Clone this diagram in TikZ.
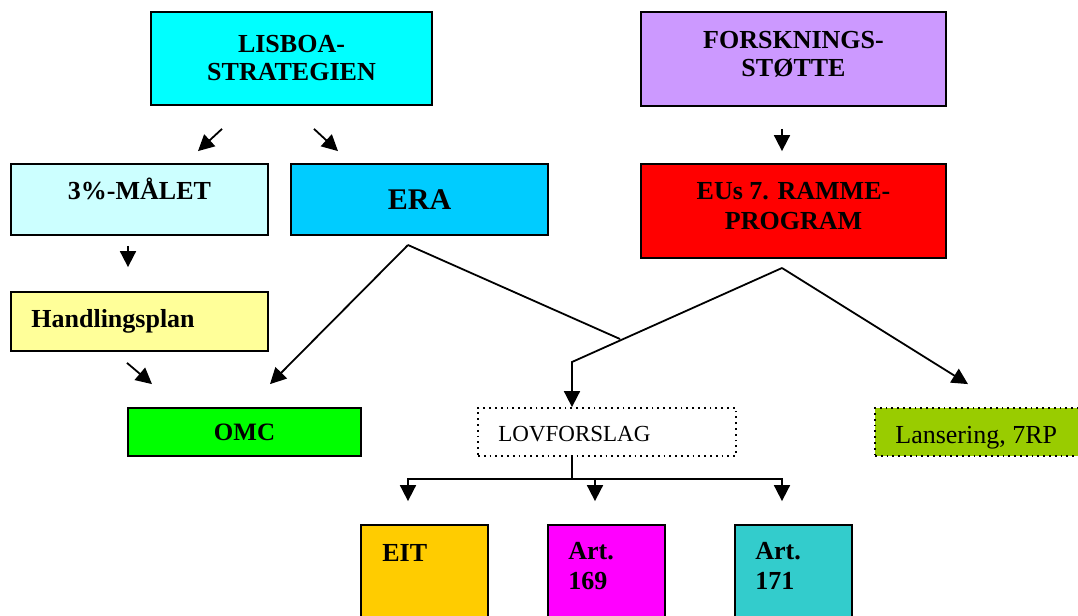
\documentclass[tikz,border=0pt]{standalone}
\usepackage{fontspec}
\setmainfont{Liberation Serif}
\usetikzlibrary{arrows.meta,calc,positioning}

\definecolor{lisboacol}{HTML}{00FFFF}
\definecolor{forskcol}{HTML}{CC99FF}
\definecolor{malcol}{HTML}{CCFFFF}
\definecolor{eracol}{HTML}{00CCFF}
\definecolor{rpcol}{HTML}{FF0000}
\definecolor{plancol}{HTML}{FFFF99}
\definecolor{omccol}{HTML}{00FF00}
\definecolor{lanscol}{HTML}{99CC00}
\definecolor{eitcol}{HTML}{FFCC00}
\definecolor{artacol}{HTML}{FF00FF}
\definecolor{artbcol}{HTML}{33CCCC}

\tikzset{
  box/.style={draw=black, line width=0.9pt, inner sep=0pt, align=center,
              font=\fontsize{13}{14}\selectfont\bfseries},
  dotbox/.style={draw=black, line width=0.9pt, dotted, inner sep=0pt},
  txt/.style={inner sep=0pt, align=left, font=\fontsize{13}{15}\selectfont\bfseries},
  arr/.style={line width=0.9pt, -{Triangle[width=8pt,length=8pt]}},
  link/.style={line width=0.9pt},
}

\begin{document}
\begin{tikzpicture}[x=0.5pt, y=-0.5pt]
    \useasboundingbox (0,0) rectangle (1078,616);

    % boxes
    \node[box, fill=lisboacol, minimum width=140.5pt, minimum height=46.5pt] (lisboa)  at (291.5,58.5) {LISBOA-\\STRATEGIEN};
    \node[box, fill=forskcol,  minimum width=152.5pt, minimum height=47pt]   (forsk)   at (793.5,59)   {};
    \node[box, fill=malcol,    minimum width=128.5pt, minimum height=35.5pt] (malet)   at (139.5,199.5) {};
    \node[box, fill=eracol,    minimum width=128.5pt, minimum height=35.5pt,
          font=\fontsize{15}{17}\selectfont\bfseries]                         (era)     at (419.5,199.5) {ERA};
    \node[box, fill=rpcol,     minimum width=152.5pt, minimum height=47pt]   (rp)      at (793.5,211)  {};
    \node[box, fill=plancol,   minimum width=128.5pt, minimum height=29.5pt] (plan)    at (139.5,321.5) {};
    \node[box, fill=omccol,    minimum width=116.5pt, minimum height=24pt,
          font=\fontsize{12.5}{14}\selectfont\bfseries]                       (omc)     at (244.5,432)  {OMC};
    \node[dotbox, fill=white,  minimum width=129pt,   minimum height=24pt]   (lov)     at (607,432)    {};
    \node[dotbox, fill=lanscol, minimum width=110pt,  minimum height=24pt]   (lans)    at (985,432)    {};
    \node[box, fill=eitcol,    minimum width=63.5pt,  minimum height=57.5pt] (eit)     at (424.5,582.5) {};
    \node[box, fill=artacol,   minimum width=58.5pt,  minimum height=57.5pt] (art169)  at (606.5,582.5) {};
    \node[box, fill=artbcol,   minimum width=58.5pt,  minimum height=57.5pt] (art171)  at (793.5,582.5) {};

    % texts set off centre
    \node[txt, align=center, font=\fontsize{13}{14}\selectfont\bfseries] (forsk-txt) at (793.5,54) {FORSKNINGS-\\STØTTE};
    \node[txt, align=center]      (rp-txt)     at (793.5,206) {EUs 7. RAMME-\\PROGRAM};
    \node[txt, anchor=base]       (malet-txt)  at (139.5,199) {3\%-MÅLET};
    \node[txt, anchor=base west]  (plan-txt)   at (31,327)    {Handlingsplan};
    \node[txt, anchor=base west, font=\fontsize{11.5}{13}\selectfont] (lov-txt)  at (498,441) {LOVFORSLAG};
    \node[txt, anchor=base west, font=\fontsize{13}{15}\selectfont]   (lans-txt) at (895,443) {Lansering, 7RP};
    \node[txt, anchor=base west]  (eit-txt)    at (382,561)   {EIT};
    \node[txt, anchor=north west] (art169-txt) at (568,542)   {Art.\\169};
    \node[txt, anchor=north west] (art171-txt) at (755,542)   {Art.\\171};

    % junctions
    \coordinate (eraTop) at (408,245);
    \coordinate (meet)   at (620,339);
    \coordinate (rpTop)  at (782,268);
    \coordinate (bend)   at (572,362);
    \coordinate (fork)   at (572,479);

    % short arrows
    \draw[arr] ($(lisboa.south)+(-69.5,23)$) -- ($(malet.north)+(58.5,-12)$);
    \draw[arr] ($(lisboa.south)+(22.5,23)$)  -- ($(era.north)+(-81.5,-12)$);
    \draw[arr] ($(malet.south)+(-11.5,10)$)  -- ($(plan.north)+(-11.5,-24)$);
    \draw[arr] ($(forsk.south)+(-11.5,22)$)  -- ($(rp.north)+(-11.5,-12)$);
    \draw[arr] ($(plan.south)+(-12.5,11)$)   -- ($(omc.north)+(-92.5,-23)$);

    % ERA and rammeprogram
    \draw[arr]  (eraTop) -- ($(omc.north)+(25.5,-23)$);
    \draw[link] (eraTop) -- (meet);
    \draw[arr]  (rpTop) -- (bend) -- ($(lov.north)+(-35,0)$);
    \draw[arr]  (rpTop) -- ($(lans.north)+(-17,-23)$);

    % lovforslag
    \draw[link] ($(lov.south)+(-35,0)$) -- (fork);
    \foreach \b/\dx in {eit/-16.5, art169/-11.5, art171/-11.5}
        \draw[arr] (fork) -| ($(\b.north)+(\dx,-23)$);
\end{tikzpicture}
\end{document}
